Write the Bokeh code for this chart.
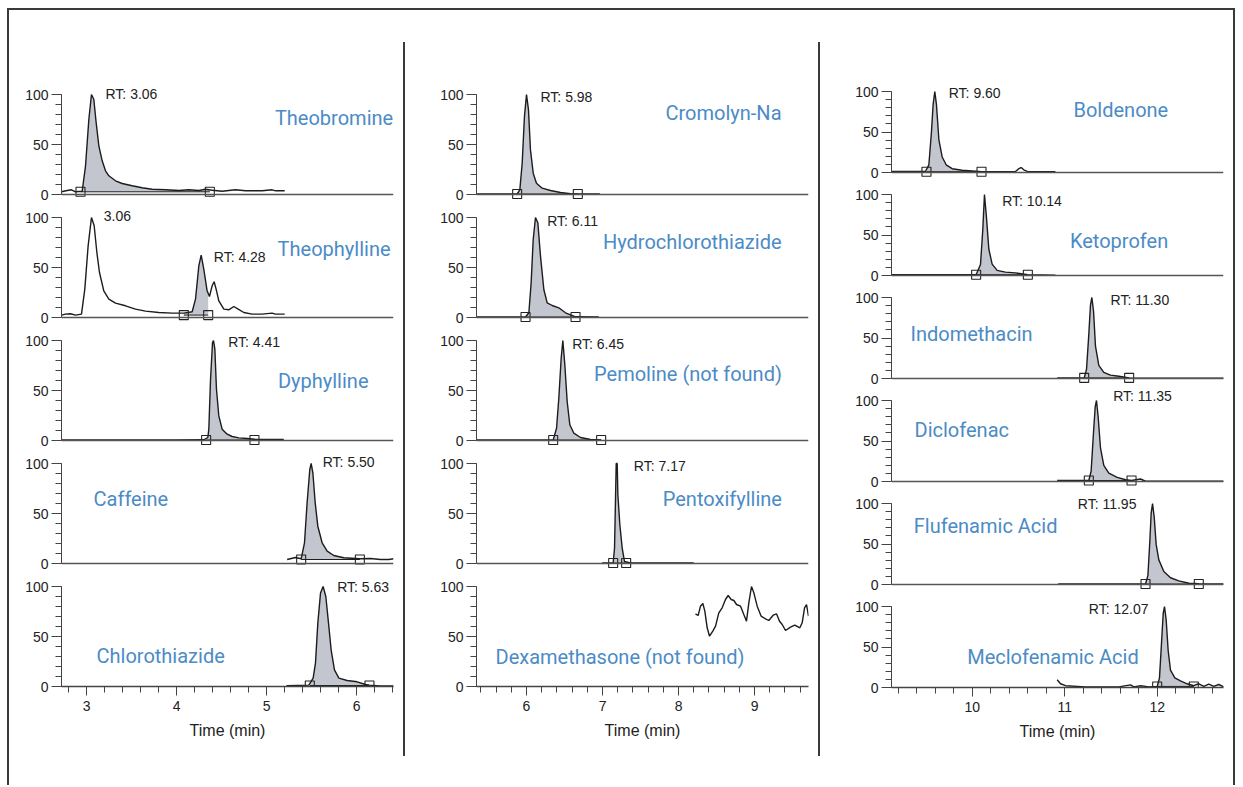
import numpy as np
from bokeh.plotting import figure
from bokeh.models import Range1d, SingleIntervalTicker, Span, Label, Div, Spacer
from bokeh.layouts import column, row
from bokeh.embed import file_html
from bokeh.resources import INLINE

# ---------------- data (time in min, relative intensity %) ----------------
THEOBROMINE_T = [2.72, 2.783, 2.831, 2.876, 2.95, 2.987, 3.024, 3.053, 3.079, 3.105, 3.135, 3.172, 3.209, 3.246, 3.32,
                 3.394, 3.505, 3.616, 3.727, 3.876, 4.024, 4.135, 4.246, 4.32, 4.394, 4.505, 4.653, 4.764, 4.95, 5.06,
                 5.1, 5.2]
THEOBROMINE_I = [2.7, 4.0, 4.7, 2.7, 3.3, 28.7, 75.3, 100, 95.3, 72.0, 48.7, 33.7, 23.7, 18.7, 13.7,
                 11.0, 8.7, 6.7, 5.3, 4.7, 4.0, 4.7, 4.0, 5.3, 4.3, 3.3, 4.7, 3.7, 3.7, 4.7,
                 3.7, 3.7]

THEOPHYLLINE_T = [2.72, 2.764, 2.82, 2.876, 2.942, 2.979, 3.016, 3.053, 3.083, 3.113, 3.142, 3.19, 3.246, 3.32, 3.431,
                  3.542, 3.653, 3.801, 3.949, 4.079, 4.172, 4.209, 4.246, 4.272, 4.301, 4.338, 4.364, 4.394, 4.416,
                  4.438, 4.468, 4.524, 4.579, 4.635, 4.683, 4.746, 4.838, 4.949, 5.06, 5.098, 5.2]
THEOPHYLLINE_I = [2.4, 3.4, 3.7, 2.4, 3.4, 28.4, 71.7, 100, 91.7, 65, 45, 26.7, 18.4, 14.4, 11.7,
                  8.4, 6.4, 5.0, 4.4, 4.4, 5.7, 18.4, 51.7, 62.4, 48.4, 26.7, 21, 31.7, 35.7,
                  28.4, 16.7, 8.4, 7.7, 11, 8.4, 5, 3.4, 3.4, 4.4, 3.4, 3.4]

DYPHYLLINE_T = [2.72, 4.0, 4.3, 4.346, 4.357, 4.376, 4.398, 4.409, 4.424, 4.442, 4.468, 4.505, 4.561, 4.616, 4.69,
                4.783, 4.864, 5.005, 5.19]
DYPHYLLINE_I = [0.5, 0.5, 0.7, 3, 11.3, 61.3, 98, 100, 91.3, 51.3, 24.6, 11.3, 6.3, 4, 2.6,
                2, 1.3, 1, 1]

CAFFEINE_T = [5.227, 5.32, 5.383, 5.42, 5.449, 5.479, 5.494, 5.513, 5.539, 5.568, 5.616, 5.672, 5.746, 5.857, 6.035,
              6.153, 6.264, 6.357, 6.41]
CAFFEINE_I = [4, 6, 4.7, 20.7, 60.7, 94, 100, 90.7, 60.7, 37.3, 20.7, 12.3, 8, 5.7, 4.7,
              5, 4, 4, 4.7]

CHLOROTHIAZIDE_T = [5.22, 5.468, 5.516, 5.542, 5.568, 5.598, 5.627, 5.657, 5.687, 5.716, 5.753, 5.802, 5.894, 6.005,
                    6.098, 6.142, 6.264, 6.41]
CHLOROTHIAZIDE_I = [0.7, 1.4, 8.4, 23.4, 63.4, 93.4, 100, 90, 63.4, 36.7, 16.7, 8.4, 6, 4.7,
                    2, 1.4, 0.5, 0.5]

CROMOLYN_T = [5.342, 5.877, 5.912, 5.943, 5.973, 6.0, 6.026, 6.052, 6.088, 6.131, 6.206, 6.316, 6.447, 6.579, 6.675,
              6.965]
CROMOLYN_I = [0.5, 0.5, 4.6, 31.3, 78, 100, 84.6, 44.6, 21.3, 11.3, 6.3, 4, 2, 0.8, 0.5, 0.5]

HYDROCHLOROTHIAZIDE_T = [5.342, 5.987, 6.031, 6.061, 6.088, 6.118, 6.149, 6.184, 6.228, 6.272, 6.338, 6.425, 6.513,
                         6.645, 6.952]
HYDROCHLOROTHIAZIDE_I = [0.5, 0.5, 4.7, 34.7, 78, 100, 94.7, 61.4, 28, 14.7, 12, 9.7, 4.7, 0.7, 0.5]

PEMOLINE_T = [5.342, 6.351, 6.395, 6.425, 6.456, 6.478, 6.504, 6.535, 6.57, 6.623, 6.71, 6.842, 6.982]
PEMOLINE_I = [0.5, 0.5, 12.3, 42.3, 82.3, 100, 75.7, 39, 15.7, 7.3, 3, 1, 0.5]

PENTOXIFYLLINE_T = [6.995, 7.14, 7.158, 7.171, 7.18, 7.193, 7.202, 7.228, 7.259, 7.289, 7.368, 8.2]
PENTOXIFYLLINE_I = [0.5, 0.7, 15.3, 65.3, 100, 100, 68.7, 38.7, 15.3, 2, 0.5, 0.5]

DEXAMETHASONE_T = [8.223, 8.258, 8.289, 8.32, 8.346, 8.377, 8.408, 8.451, 8.487, 8.53, 8.574, 8.618, 8.653, 8.693,
                   8.728, 8.763, 8.816, 8.859, 8.894, 8.925, 8.96, 8.991, 9.035, 9.087, 9.145, 9.188, 9.245, 9.289,
                   9.329, 9.364, 9.408, 9.473, 9.53, 9.596, 9.627, 9.658, 9.684, 9.71]
DEXAMETHASONE_I = [72.7, 71, 80.3, 83, 75.3, 58.7, 50.3, 55.3, 60.3, 73.7, 78.7, 87, 91, 87,
                   86, 82, 80.3, 72, 65.3, 83.7, 100, 93.7, 80.3, 70.3, 67.7, 66, 71.3, 72.7,
                   65.3, 62, 56, 59.3, 61.3, 58.7, 63.7, 78.7, 82, 70.3]

BOLDENONE_T = [9.128, 9.495, 9.532, 9.56, 9.578, 9.596, 9.614, 9.64, 9.676, 9.719, 9.784, 9.892, 10.0, 10.101, 10.324,
               10.468, 10.504, 10.53, 10.558, 10.595, 10.9]
BOLDENONE_I = [1.3, 1.3, 9.5, 50.3, 83.9, 100, 83.9, 40.7, 19.1, 9.5, 4.7, 2.8, 1.9, 0.9, 0.9,
               1.3, 4.7, 6.1, 3.3, 1.3, 0.9]

KETOPROFEN_T = [9.128, 10.043, 10.09, 10.115, 10.133, 10.155, 10.18, 10.216, 10.27, 10.36, 10.468, 10.602, 10.9]
KETOPROFEN_I = [1, 1, 13.5, 56.7, 100, 71.1, 32.7, 14.1, 6.3, 4.2, 3.2, 1, 0.5]

INDOMETHACIN_T = [10.919, 11.211, 11.236, 11.261, 11.279, 11.294, 11.312, 11.333, 11.369, 11.423, 11.495, 11.586,
                  11.697, 11.946, 12.72]
INDOMETHACIN_I = [0.8, 0.8, 11.3, 54.5, 90.6, 100, 83.3, 40.1, 16.2, 7.5, 4.1, 2.7, 0.8, 0.3, 0.3]

DICLOFENAC_T = [10.919, 11.261, 11.286, 11.312, 11.33, 11.344, 11.362, 11.387, 11.423, 11.477, 11.568, 11.658,
                11.723, 11.82, 11.874, 12.72]
DICLOFENAC_I = [1.2, 1.2, 12.7, 60.9, 92, 100, 80, 41.6, 20, 10.3, 5.1, 2.2, 1.2, 3.1, 0.3, 0.3]

FLUFENAMIC_T = [10.93, 11.874, 11.9, 11.921, 11.935, 11.95, 11.968, 11.989, 12.018, 12.072, 12.144, 12.234, 12.343,
                12.45, 12.72]
FLUFENAMIC_I = [0.6, 0.6, 11.2, 54.3, 88, 100, 83.2, 49.5, 30.4, 16, 8.3, 4.5, 1.6, 1.1, 0.6]

MECLOFENAMIC_T = [10.919, 10.955, 11.009, 11.225, 11.586, 11.712, 11.748, 11.82, 11.91, 12.0, 12.025, 12.047, 12.065,
                  12.079, 12.097, 12.119, 12.144, 12.191, 12.252, 12.324, 12.396, 12.45, 12.504, 12.558, 12.612,
                  12.666, 12.72]
MECLOFENAMIC_I = [9.5, 4.6, 2.2, 0.8, 0.8, 3.2, 0.8, 2.2, 0.8, 1.3, 11.9, 55.1, 91.1, 100, 83.9, 45.4, 21.5,
                  11.9, 8.1, 4.6, 2.2, 4.6, 1.3, 4.1, 1.3, 3.7, 0.8]

# compound names, RT annotations and integration windows (start, end, baseline level)
COMPOUNDS = ["Theobromine", "Theophylline", "Dyphylline", "Caffeine", "Chlorothiazide",
             "Cromolyn-Na", "Hydrochlorothiazide", "Pemoline (not found)", "Pentoxifylline",
             "Dexamethasone (not found)",
             "Boldenone", "Ketoprofen", "Indomethacin", "Diclofenac", "Flufenamic Acid", "Meclofenamic Acid"]
RT_TEXT = ["RT: 3.06", "RT: 4.28", "RT: 4.41", "RT: 5.50", "RT: 5.63",
           "RT: 5.98", "RT: 6.11", "RT: 6.45", "RT: 7.17", None,
           "RT: 9.60", "RT: 10.14", "RT: 11.30", "RT: 11.35", "RT: 11.95", "RT: 12.07"]
INT_START = [2.931, 4.079, 4.327, 5.383, 5.479, 5.877, 5.987, 6.351, 7.14, None,
             9.506, 10.043, 11.211, 11.261, 11.874, 12.0]
INT_END = [4.368, 4.35, 4.864, 6.035, 6.142, 6.675, 6.645, 6.982, 7.311, None,
           10.101, 10.602, 11.697, 11.723, 12.45, 12.396]
INT_BASE = [2.7, 2.4, 0.5, 4.0, 1.0, 0.5, 0.5, 0.5, 0.5, None,
            1.0, 1.0, 0.8, 1.2, 0.6, 1.3]
EXTRA_TEXT = {"Theophylline": "3.06"}
TRACES = [(THEOBROMINE_T, THEOBROMINE_I), (THEOPHYLLINE_T, THEOPHYLLINE_I), (DYPHYLLINE_T, DYPHYLLINE_I),
          (CAFFEINE_T, CAFFEINE_I), (CHLOROTHIAZIDE_T, CHLOROTHIAZIDE_I),
          (CROMOLYN_T, CROMOLYN_I), (HYDROCHLOROTHIAZIDE_T, HYDROCHLOROTHIAZIDE_I), (PEMOLINE_T, PEMOLINE_I),
          (PENTOXIFYLLINE_T, PENTOXIFYLLINE_I), (DEXAMETHASONE_T, DEXAMETHASONE_I),
          (BOLDENONE_T, BOLDENONE_I), (KETOPROFEN_T, KETOPROFEN_I), (INDOMETHACIN_T, INDOMETHACIN_I),
          (DICLOFENAC_T, DICLOFENAC_I), (FLUFENAMIC_T, FLUFENAMIC_I), (MECLOFENAMIC_T, MECLOFENAMIC_I)]

# ---------------- layout / style ----------------
NAME_POS = [(6.405, 77, "right"), (6.376, 68.5, "right"), (6.131, 60, "right"), (3.076, 65, "left"),
            (3.109, 31, "left"),
            (9.355, 81.6, "right"), (9.355, 75.7, "right"), (9.36, 67, "right"), (9.36, 65, "right"),
            (5.592, 30, "left"),
            (12.119, 76.9, "right"), (12.119, 43.2, "right"), (9.333, 55.5, "left"), (9.377, 63.3, "left"),
            (9.369, 72.8, "left"), (9.946, 37.9, "left")]
RT_POS = [(3.209, 101), (4.412, 60.7), (4.572, 98.6), (5.623, 101.3), (5.783, 100),
          (6.184, 97.3), (6.272, 96.7), (6.601, 97), (7.412, 97.3), None,
          (9.747, 97.9), (10.325, 92.2), (11.496, 97.5), (11.525, 105.3), (11.142, 100), (11.261, 96.8)]
EXTRA_POS = {"Theophylline": (3.19, 101.7)}

COLS = [
    dict(idx=range(0, 5), xr=(2.72, 6.409), left=52, top=70, pitch=123, below=9, scale=1.0),
    dict(idx=range(5, 10), xr=(5.342, 9.71), left=71, top=70, pitch=123, below=9, scale=1.0),
    dict(idx=range(10, 16), xr=(9.128, 12.717), left=71, top=68, pitch=103, below=9, scale=0.81),
]

BLUE = "#4b8bc6"
INK = "#1c1c1c"
AXC = "#444444"
FILL = "#c3c6ce"
TICK_FONT = "Liberation Sans"


def make_panel(col, k, n, i):
    sc, pitch, below = col["scale"], col["pitch"], col["below"]
    bottom = (k == n - 1)
    if bottom:
        fh = pitch - below
        yr = Range1d(0, fh / sc)
    else:
        fh = pitch
        yr = Range1d(-below / sc, (pitch - below) / sc)
    p = figure(frame_width=332, frame_height=fh, x_range=Range1d(*col["xr"]), y_range=yr,
               output_backend="svg", toolbar_location=None,
               min_border_left=col["left"], min_border_right=10,
               min_border_top=col["top"] if k == 0 else 0,
               min_border_bottom=60 if bottom else 0,
               outline_line_color=None, background_fill_color="white", border_fill_color="white",
               margin=(0, 0, 0, 0))
    p.grid.visible = False

    ya = p.yaxis[0]
    ya.ticker = SingleIntervalTicker(interval=50, num_minor_ticks=5)
    ya.bounds = (0, 100)
    ya.major_tick_out, ya.major_tick_in = 10, 0
    ya.minor_tick_out, ya.minor_tick_in = 6, 0
    ya.major_label_standoff = 3
    ya.major_label_text_font = TICK_FONT
    ya.major_label_text_font_size = "14px"
    ya.major_label_text_color = "#222222"
    ya.axis_line_color = AXC
    ya.major_tick_line_color = AXC
    ya.minor_tick_line_color = AXC

    xa = p.xaxis[0]
    if bottom:
        xa.ticker = SingleIntervalTicker(interval=1, num_minor_ticks=5)
        xa.major_tick_out, xa.major_tick_in = 9, 0
        xa.minor_tick_out, xa.minor_tick_in = 6, 0
        xa.major_label_standoff = 5
        xa.major_label_text_font = TICK_FONT
        xa.major_label_text_font_size = "14px"
        xa.major_label_text_color = "#222222"
        xa.axis_line_color = AXC
        xa.axis_line_width = 1.5
        xa.major_tick_line_color = AXC
        xa.minor_tick_line_color = AXC
        xa.axis_label = "Time (min)"
        xa.axis_label_text_font = TICK_FONT
        xa.axis_label_text_font_size = "16px"
        xa.axis_label_text_font_style = "normal"
        xa.axis_label_text_color = "#222222"
        xa.axis_label_standoff = 8
    else:
        xa.visible = False
        p.add_layout(Span(location=0, dimension="width", line_color="#555555", line_width=1.5))

    t = np.array(TRACES[i][0], dtype=float)
    y = np.array(TRACES[i][1], dtype=float)

    s, e, b = INT_START[i], INT_END[i], INT_BASE[i]
    if s is not None:
        m = (t > s) & (t < e)
        fx = np.concatenate([[s], t[m], [e]])
        fy = np.concatenate([[np.interp(s, t, y)], y[m], [np.interp(e, t, y)]])
        p.varea(x=fx, y1=np.full(len(fx), b), y2=fy, fill_color=FILL, fill_alpha=1.0)
        p.line([s, e], [b, b], line_color=INK, line_width=1)

    p.line(t, y, line_color=INK, line_width=1.4)

    if s is not None:
        p.scatter([s, e], [b, b], marker="square", size=9, fill_color=None,
                  line_color="#222222", line_width=1.1)

    nx, ny, al = NAME_POS[i]
    p.add_layout(Label(x=nx, y=ny, text=COMPOUNDS[i], text_align=al, text_baseline="middle",
                       text_font="Roboto", text_font_size="20px", text_color=BLUE))
    if RT_TEXT[i] is not None:
        rx, ry = RT_POS[i]
        p.add_layout(Label(x=rx, y=ry, text=RT_TEXT[i], text_align="left", text_baseline="middle",
                           text_font=TICK_FONT, text_font_size="14px", text_color="#222222"))
    if COMPOUNDS[i] in EXTRA_TEXT:
        ex, ey = EXTRA_POS[COMPOUNDS[i]]
        p.add_layout(Label(x=ex, y=ey, text=EXTRA_TEXT[COMPOUNDS[i]], text_align="left",
                           text_baseline="middle", text_font=TICK_FONT, text_font_size="14px",
                           text_color="#222222"))
    return p


cols = []
for col in COLS:
    idx = list(col["idx"])
    panels = [make_panel(col, k, len(idx), i) for k, i in enumerate(idx)]
    cols.append(column(panels, spacing=0, margin=(0, 0, 0, 0)))

LINE = {"background-color": "#3a3a3a"}
Z = (0, 0, 0, 0)


def bar(w, h):
    return Div(text="", width=w, height=h, styles=LINE, margin=Z)


def vsep():
    return column([Spacer(width=2, height=32, margin=Z), bar(2, 714)], spacing=0, margin=Z)


content = row([cols[0], vsep(), cols[1], vsep(), cols[2]], spacing=0, margin=Z)
frame = column([
    bar(1228, 2),
    row([bar(2, 775), content, bar(2, 775)], spacing=0, margin=Z),
], spacing=0, margin=(8, 0, 0, 7))

open("out.html", "w").write(file_html(frame, INLINE, title="Chromatograms"))
